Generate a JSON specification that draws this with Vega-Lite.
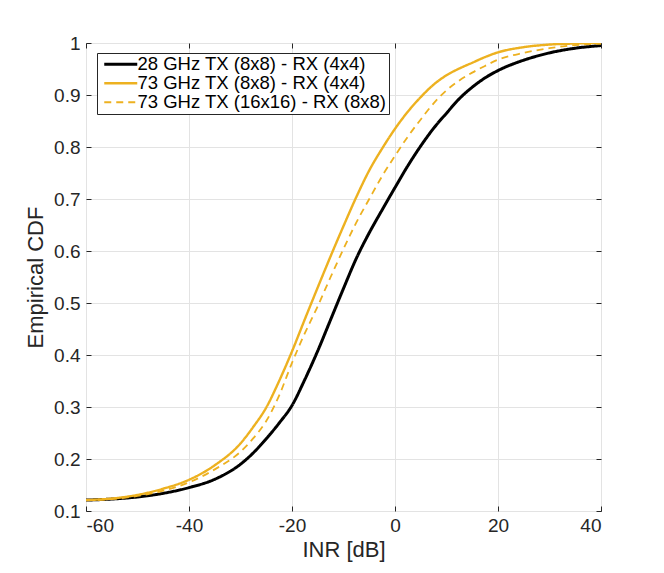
{
  "$schema": "https://vega.github.io/schema/vega-lite/v6.json",
  "autosize": "none",
  "width": 515,
  "height": 468,
  "padding": {"left": 86, "top": 43, "right": 63, "bottom": 62},
  "background": "white",
  "config": {
    "font": "Liberation Sans",
    "view": {"stroke": "#262626", "strokeWidth": 1},
    "axis": {
      "domain": false,
      "gridColor": "#e3e3e3",
      "gridWidth": 1,
      "tickColor": "#262626",
      "tickSize": -5,
      "labelColor": "#262626",
      "labelFont": "Liberation Sans",
      "labelFontSize": 19,
      "titleColor": "#262626",
      "titleFont": "Liberation Sans",
      "titleFontSize": 22,
      "titleFontWeight": "normal"
    },
    "legend": {
      "fillColor": "white",
      "strokeColor": "#262626",
      "padding": 2,
      "rowPadding": 0,
      "labelFont": "Liberation Sans",
      "labelFontSize": 18.5,
      "labelColor": "#000000",
      "labelLimit": 400,
      "labelOffset": 20,
      "symbolType": "M-0.8,0H5.8",
      "symbolSize": 100
    }
  },
  "data": {
    "values": [
      {"inr": -60, "cdf": 0.121, "series": "28 GHz TX (8x8) - RX (4x4)"},
      {"inr": -55, "cdf": 0.123, "series": "28 GHz TX (8x8) - RX (4x4)"},
      {"inr": -50, "cdf": 0.127, "series": "28 GHz TX (8x8) - RX (4x4)"},
      {"inr": -45, "cdf": 0.134, "series": "28 GHz TX (8x8) - RX (4x4)"},
      {"inr": -40, "cdf": 0.145, "series": "28 GHz TX (8x8) - RX (4x4)"},
      {"inr": -35, "cdf": 0.161, "series": "28 GHz TX (8x8) - RX (4x4)"},
      {"inr": -30, "cdf": 0.190, "series": "28 GHz TX (8x8) - RX (4x4)"},
      {"inr": -27.5, "cdf": 0.212, "series": "28 GHz TX (8x8) - RX (4x4)"},
      {"inr": -25, "cdf": 0.239, "series": "28 GHz TX (8x8) - RX (4x4)"},
      {"inr": -22.5, "cdf": 0.269, "series": "28 GHz TX (8x8) - RX (4x4)"},
      {"inr": -20, "cdf": 0.303, "series": "28 GHz TX (8x8) - RX (4x4)"},
      {"inr": -17.5, "cdf": 0.353, "series": "28 GHz TX (8x8) - RX (4x4)"},
      {"inr": -15, "cdf": 0.408, "series": "28 GHz TX (8x8) - RX (4x4)"},
      {"inr": -12.5, "cdf": 0.468, "series": "28 GHz TX (8x8) - RX (4x4)"},
      {"inr": -10, "cdf": 0.528, "series": "28 GHz TX (8x8) - RX (4x4)"},
      {"inr": -7.5, "cdf": 0.586, "series": "28 GHz TX (8x8) - RX (4x4)"},
      {"inr": -5, "cdf": 0.635, "series": "28 GHz TX (8x8) - RX (4x4)"},
      {"inr": -2.5, "cdf": 0.679, "series": "28 GHz TX (8x8) - RX (4x4)"},
      {"inr": 0, "cdf": 0.722, "series": "28 GHz TX (8x8) - RX (4x4)"},
      {"inr": 2.5, "cdf": 0.764, "series": "28 GHz TX (8x8) - RX (4x4)"},
      {"inr": 5, "cdf": 0.802, "series": "28 GHz TX (8x8) - RX (4x4)"},
      {"inr": 7.5, "cdf": 0.836, "series": "28 GHz TX (8x8) - RX (4x4)"},
      {"inr": 10, "cdf": 0.865, "series": "28 GHz TX (8x8) - RX (4x4)"},
      {"inr": 12.5, "cdf": 0.893, "series": "28 GHz TX (8x8) - RX (4x4)"},
      {"inr": 15, "cdf": 0.915, "series": "28 GHz TX (8x8) - RX (4x4)"},
      {"inr": 17.5, "cdf": 0.933, "series": "28 GHz TX (8x8) - RX (4x4)"},
      {"inr": 20, "cdf": 0.947, "series": "28 GHz TX (8x8) - RX (4x4)"},
      {"inr": 25, "cdf": 0.967, "series": "28 GHz TX (8x8) - RX (4x4)"},
      {"inr": 30, "cdf": 0.981, "series": "28 GHz TX (8x8) - RX (4x4)"},
      {"inr": 35, "cdf": 0.990, "series": "28 GHz TX (8x8) - RX (4x4)"},
      {"inr": 40, "cdf": 0.995, "series": "28 GHz TX (8x8) - RX (4x4)"},

      {"inr": -60, "cdf": 0.121, "series": "73 GHz TX (8x8) - RX (4x4)"},
      {"inr": -55, "cdf": 0.124, "series": "73 GHz TX (8x8) - RX (4x4)"},
      {"inr": -50, "cdf": 0.131, "series": "73 GHz TX (8x8) - RX (4x4)"},
      {"inr": -45, "cdf": 0.143, "series": "73 GHz TX (8x8) - RX (4x4)"},
      {"inr": -40, "cdf": 0.160, "series": "73 GHz TX (8x8) - RX (4x4)"},
      {"inr": -35, "cdf": 0.188, "series": "73 GHz TX (8x8) - RX (4x4)"},
      {"inr": -30, "cdf": 0.230, "series": "73 GHz TX (8x8) - RX (4x4)"},
      {"inr": -27.5, "cdf": 0.262, "series": "73 GHz TX (8x8) - RX (4x4)"},
      {"inr": -25, "cdf": 0.299, "series": "73 GHz TX (8x8) - RX (4x4)"},
      {"inr": -22.5, "cdf": 0.350, "series": "73 GHz TX (8x8) - RX (4x4)"},
      {"inr": -20, "cdf": 0.407, "series": "73 GHz TX (8x8) - RX (4x4)"},
      {"inr": -17.5, "cdf": 0.469, "series": "73 GHz TX (8x8) - RX (4x4)"},
      {"inr": -15, "cdf": 0.530, "series": "73 GHz TX (8x8) - RX (4x4)"},
      {"inr": -12.5, "cdf": 0.590, "series": "73 GHz TX (8x8) - RX (4x4)"},
      {"inr": -10, "cdf": 0.648, "series": "73 GHz TX (8x8) - RX (4x4)"},
      {"inr": -7.5, "cdf": 0.704, "series": "73 GHz TX (8x8) - RX (4x4)"},
      {"inr": -5, "cdf": 0.755, "series": "73 GHz TX (8x8) - RX (4x4)"},
      {"inr": -2.5, "cdf": 0.797, "series": "73 GHz TX (8x8) - RX (4x4)"},
      {"inr": 0, "cdf": 0.835, "series": "73 GHz TX (8x8) - RX (4x4)"},
      {"inr": 2.5, "cdf": 0.868, "series": "73 GHz TX (8x8) - RX (4x4)"},
      {"inr": 5, "cdf": 0.896, "series": "73 GHz TX (8x8) - RX (4x4)"},
      {"inr": 7.5, "cdf": 0.920, "series": "73 GHz TX (8x8) - RX (4x4)"},
      {"inr": 10, "cdf": 0.938, "series": "73 GHz TX (8x8) - RX (4x4)"},
      {"inr": 12.5, "cdf": 0.951, "series": "73 GHz TX (8x8) - RX (4x4)"},
      {"inr": 15, "cdf": 0.962, "series": "73 GHz TX (8x8) - RX (4x4)"},
      {"inr": 17.5, "cdf": 0.973, "series": "73 GHz TX (8x8) - RX (4x4)"},
      {"inr": 20, "cdf": 0.982, "series": "73 GHz TX (8x8) - RX (4x4)"},
      {"inr": 25, "cdf": 0.992, "series": "73 GHz TX (8x8) - RX (4x4)"},
      {"inr": 30, "cdf": 0.997, "series": "73 GHz TX (8x8) - RX (4x4)"},
      {"inr": 35, "cdf": 0.999, "series": "73 GHz TX (8x8) - RX (4x4)"},
      {"inr": 40, "cdf": 1.000, "series": "73 GHz TX (8x8) - RX (4x4)"},

      {"inr": -60, "cdf": 0.121, "series": "73 GHz TX (16x16) - RX (8x8)"},
      {"inr": -55, "cdf": 0.123, "series": "73 GHz TX (16x16) - RX (8x8)"},
      {"inr": -50, "cdf": 0.129, "series": "73 GHz TX (16x16) - RX (8x8)"},
      {"inr": -45, "cdf": 0.139, "series": "73 GHz TX (16x16) - RX (8x8)"},
      {"inr": -40, "cdf": 0.155, "series": "73 GHz TX (16x16) - RX (8x8)"},
      {"inr": -35, "cdf": 0.180, "series": "73 GHz TX (16x16) - RX (8x8)"},
      {"inr": -30, "cdf": 0.214, "series": "73 GHz TX (16x16) - RX (8x8)"},
      {"inr": -27.5, "cdf": 0.240, "series": "73 GHz TX (16x16) - RX (8x8)"},
      {"inr": -25, "cdf": 0.273, "series": "73 GHz TX (16x16) - RX (8x8)"},
      {"inr": -22.5, "cdf": 0.322, "series": "73 GHz TX (16x16) - RX (8x8)"},
      {"inr": -20, "cdf": 0.385, "series": "73 GHz TX (16x16) - RX (8x8)"},
      {"inr": -17.5, "cdf": 0.442, "series": "73 GHz TX (16x16) - RX (8x8)"},
      {"inr": -15, "cdf": 0.494, "series": "73 GHz TX (16x16) - RX (8x8)"},
      {"inr": -12.5, "cdf": 0.550, "series": "73 GHz TX (16x16) - RX (8x8)"},
      {"inr": -10, "cdf": 0.604, "series": "73 GHz TX (16x16) - RX (8x8)"},
      {"inr": -7.5, "cdf": 0.655, "series": "73 GHz TX (16x16) - RX (8x8)"},
      {"inr": -5, "cdf": 0.700, "series": "73 GHz TX (16x16) - RX (8x8)"},
      {"inr": -2.5, "cdf": 0.744, "series": "73 GHz TX (16x16) - RX (8x8)"},
      {"inr": 0, "cdf": 0.783, "series": "73 GHz TX (16x16) - RX (8x8)"},
      {"inr": 2.5, "cdf": 0.820, "series": "73 GHz TX (16x16) - RX (8x8)"},
      {"inr": 5, "cdf": 0.853, "series": "73 GHz TX (16x16) - RX (8x8)"},
      {"inr": 7.5, "cdf": 0.884, "series": "73 GHz TX (16x16) - RX (8x8)"},
      {"inr": 10, "cdf": 0.909, "series": "73 GHz TX (16x16) - RX (8x8)"},
      {"inr": 12.5, "cdf": 0.928, "series": "73 GHz TX (16x16) - RX (8x8)"},
      {"inr": 15, "cdf": 0.943, "series": "73 GHz TX (16x16) - RX (8x8)"},
      {"inr": 17.5, "cdf": 0.956, "series": "73 GHz TX (16x16) - RX (8x8)"},
      {"inr": 20, "cdf": 0.968, "series": "73 GHz TX (16x16) - RX (8x8)"},
      {"inr": 25, "cdf": 0.981, "series": "73 GHz TX (16x16) - RX (8x8)"},
      {"inr": 30, "cdf": 0.990, "series": "73 GHz TX (16x16) - RX (8x8)"},
      {"inr": 35, "cdf": 0.996, "series": "73 GHz TX (16x16) - RX (8x8)"},
      {"inr": 40, "cdf": 0.999, "series": "73 GHz TX (16x16) - RX (8x8)"}
    ]
  },
  "resolve": {"axis": {"x": "independent", "y": "independent"}},
  "layer": [
    {
      "mark": {"type": "line", "interpolate": "monotone", "clip": true},
      "encoding": {
        "x": {
          "field": "inr",
          "type": "quantitative",
          "scale": {"domain": [-60, 40], "nice": false},
          "axis": {"values": [-60, -40, -20, 0, 20, 40], "labelExpr": "datum.value + ''", "title": "INR [dB]", "labelPadding": 10, "titlePadding": 4}
        },
        "y": {
          "field": "cdf",
          "type": "quantitative",
          "scale": {"domain": [0.1, 1], "nice": false, "zero": false},
          "axis": {"values": [0.1, 0.2, 0.3, 0.4, 0.5, 0.6, 0.7, 0.8, 0.9, 1], "format": "~g", "title": "Empirical CDF", "labelPadding": 11, "titlePadding": 6}
        },
        "color": {
          "field": "series",
          "type": "nominal",
          "scale": {
            "domain": ["28 GHz TX (8x8) - RX (4x4)", "73 GHz TX (8x8) - RX (4x4)", "73 GHz TX (16x16) - RX (8x8)"],
            "range": ["#000000", "#EDB120", "#EDB120"]
          },
          "legend": {"orient": "none", "legendX": 11, "legendY": 10, "title": null}
        },
        "strokeDash": {
          "field": "series",
          "type": "nominal",
          "scale": {
            "domain": ["28 GHz TX (8x8) - RX (4x4)", "73 GHz TX (8x8) - RX (4x4)", "73 GHz TX (16x16) - RX (8x8)"],
            "range": [[1, 0], [1, 0], [7, 5]]
          },
          "legend": {"orient": "none", "legendX": 11, "legendY": 10, "title": null}
        },
        "strokeWidth": {
          "field": "series",
          "type": "nominal",
          "scale": {
            "domain": ["28 GHz TX (8x8) - RX (4x4)", "73 GHz TX (8x8) - RX (4x4)", "73 GHz TX (16x16) - RX (8x8)"],
            "range": [3, 1.8, 2]
          },
          "legend": {"orient": "none", "legendX": 11, "legendY": 10, "title": null}
        }
      }
    },
    {
      "mark": {"type": "point", "opacity": 0},
      "encoding": {
        "x": {
          "field": "inr",
          "type": "quantitative",
          "axis": {"orient": "top", "values": [-60, -40, -20, 0, 20, 40], "labels": false, "grid": false, "title": null}
        },
        "y": {
          "field": "cdf",
          "type": "quantitative",
          "axis": {"orient": "right", "values": [0.1, 0.2, 0.3, 0.4, 0.5, 0.6, 0.7, 0.8, 0.9, 1], "labels": false, "grid": false, "title": null}
        }
      }
    }
  ]
}
